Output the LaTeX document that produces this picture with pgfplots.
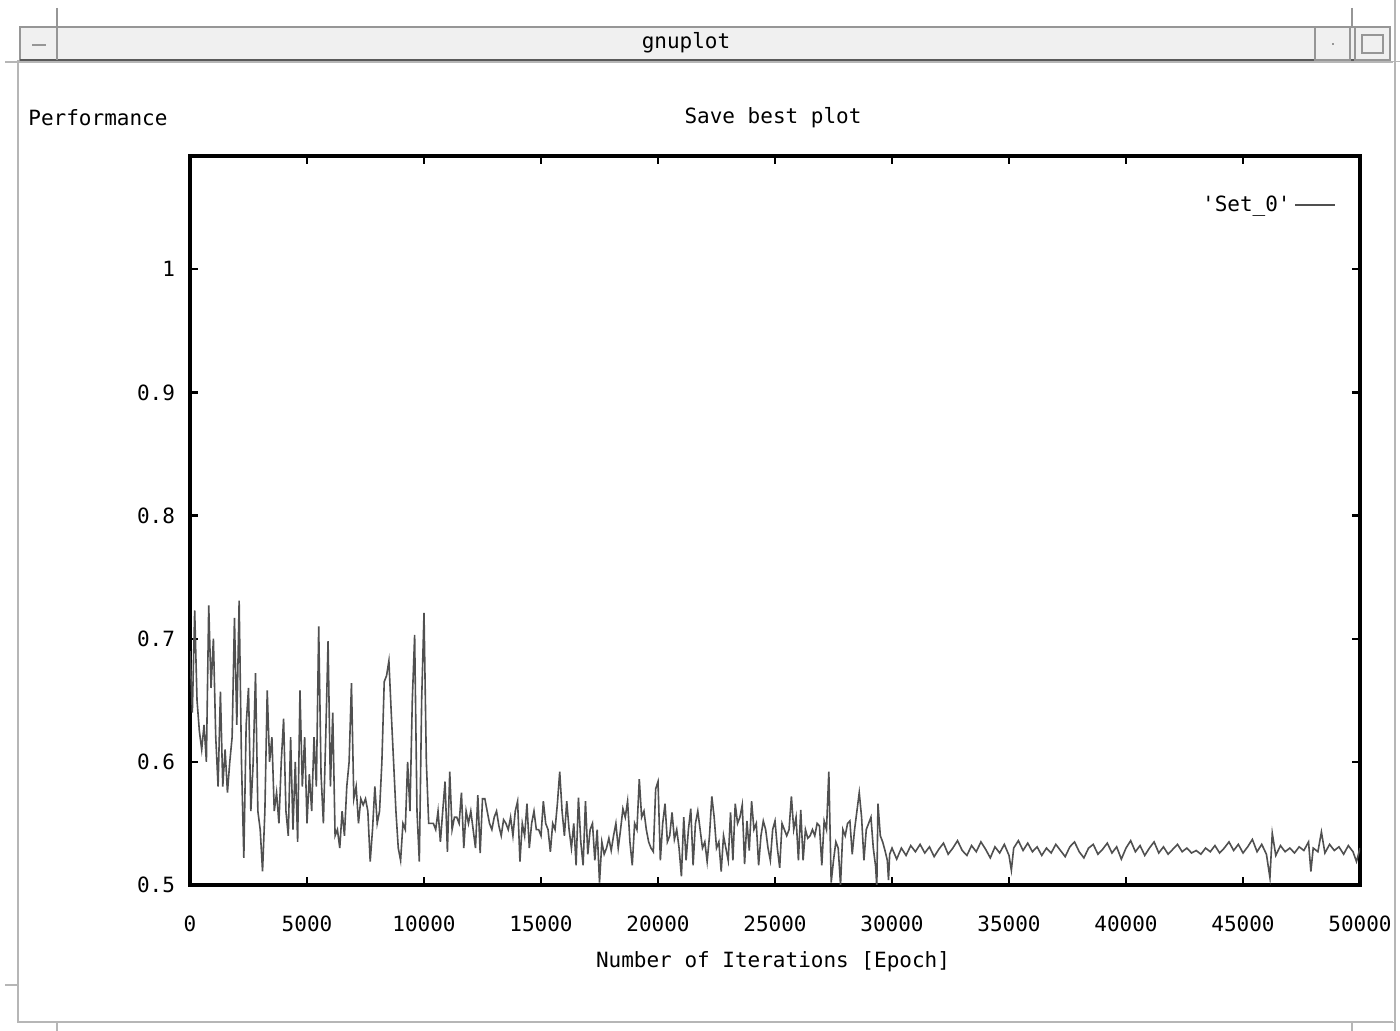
\documentclass[border=0pt]{standalone}
\usepackage{fontspec}
\usepackage{pgfplots}
\pgfplotsset{compat=1.18}
\newfontfamily\gp{DejaVu Sans Mono}
\definecolor{dataline}{RGB}{80,80,80}
\definecolor{chrome}{RGB}{150,150,150}
\begin{document}
\begin{tikzpicture}
\useasboundingbox (0,0) rectangle (700pt,515.5pt);
\fill[white] (0,0) rectangle (700pt,515.5pt);
% window chrome (pixel coordinates, y downwards)
\begin{scope}[x=0.5pt,y=-0.5pt,shift={(0,515.5pt)}]
  \fill[gray!12] (20,27) rectangle (1390,60);
  \draw[chrome,line width=0.8pt] (20,27) rectangle (1390,60);
  \draw[gray!70!black,line width=0.9pt] (20,60) -- (1390,60);
  \draw[chrome,line width=0.8pt] (57,27) -- (57,60);
  \draw[chrome,line width=0.8pt] (1315,27) rectangle (1350,60);
  \draw[chrome,line width=0.8pt] (1355,27) rectangle (1390,60);
  \draw[chrome,line width=0.8pt] (57,8) -- (57,27);
  \draw[chrome,line width=0.8pt] (1352,8) -- (1352,27);
  \draw[chrome,line width=0.6pt] (32,45) -- (46,45);
  \draw[chrome,line width=0.6pt] (1362,35) rectangle (1383,53);
  \draw[chrome,line width=0.6pt] (1332,44) -- (1334,44);
  \draw[chrome!70,line width=0.6pt] (5,62) -- (1400,62);
  \draw[chrome!70,line width=0.6pt] (18,60) -- (18,1022) -- (1395,1022);
  \draw[chrome!70,line width=0.6pt] (1395,0) -- (1395,1031);
  \draw[chrome!70,line width=0.6pt] (5,985) -- (18,985);
  \draw[chrome!70,line width=0.6pt] (57,1022) -- (57,1031);
  \draw[chrome!70,line width=0.6pt] (1352,1022) -- (1352,1031);
  \node[font=\gp\fontsize{10.5pt}{12pt}\selectfont] at (686,43) {gnuplot};
  \node[font=\gp\fontsize{10.5pt}{12pt}\selectfont,anchor=west,inner sep=0pt] at (28,118) {Performance};
  \node[font=\gp\fontsize{10.5pt}{12pt}\selectfont] at (773,118) {Save best plot};
  \node[font=\gp\fontsize{10.5pt}{12pt}\selectfont] at (773,962) {Number of Iterations [Epoch]};
\end{scope}
\begin{axis}[
  at={(95pt,73pt)}, anchor=south west,
  scale only axis, width=585pt, height=364.5pt,
  xmin=0, xmax=50000, ymin=0.5, ymax=1.092,
  axis line style={line width=1.6pt},
  tick align=inside, xtick pos=both, ytick pos=both,
  major tick length=4pt,
  every tick/.style={black,line width=1.2pt},
  xtick={0,5000,10000,15000,20000,25000,30000,35000,40000,45000,50000},
  xticklabels={0,5000,10000,15000,20000,25000,30000,35000,40000,45000,50000},
  ytick={0.5,0.6,0.7,0.8,0.9,1},
  yticklabels={0.5,0.6,0.7,0.8,0.9,1},
  scaled x ticks=false,
  xticklabel style={font=\gp\fontsize{10.5pt}{12pt}\selectfont,yshift=-12pt},
  yticklabel style={font=\gp\fontsize{10.5pt}{12pt}\selectfont,xshift=-4pt},
  legend plot pos=right,
  legend style={at={(0.985,0.933)},anchor=east,draw=none,fill=none,
    font=\gp\fontsize{10.5pt}{12pt}\selectfont},
  legend image code/.code={\draw[#1] (0cm,0cm) -- (0.7cm,0cm);},
  clip=true,
]
\addplot[dataline,line width=0.8pt] table {
x y
0 0.690
100 0.640
200 0.723
300 0.650
400 0.625
500 0.610
600 0.630
700 0.600
800 0.727
900 0.660
1000 0.700
1100 0.620
1200 0.580
1300 0.657
1400 0.580
1500 0.610
1600 0.575
1700 0.600
1800 0.620
1900 0.717
2000 0.630
2100 0.731
2200 0.600
2300 0.522
2400 0.630
2500 0.660
2600 0.560
2700 0.600
2800 0.672
2900 0.560
3000 0.545
3100 0.511
3200 0.560
3300 0.658
3400 0.600
3500 0.620
3600 0.560
3700 0.575
3800 0.550
3900 0.600
4000 0.635
4100 0.560
4200 0.540
4300 0.620
4400 0.545
4500 0.600
4600 0.535
4700 0.658
4800 0.580
4900 0.620
5000 0.550
5100 0.590
5200 0.560
5300 0.620
5400 0.580
5500 0.710
5600 0.590
5700 0.550
5800 0.620
5900 0.698
6000 0.580
6100 0.640
6200 0.540
6300 0.545
6400 0.530
6500 0.560
6600 0.540
6700 0.580
6800 0.600
6900 0.664
7000 0.570
7100 0.580
7200 0.550
7300 0.570
7400 0.565
7500 0.570
7600 0.560
7700 0.519
7800 0.545
7900 0.580
8000 0.550
8100 0.560
8200 0.600
8300 0.665
8400 0.670
8500 0.682
8600 0.640
8700 0.600
8800 0.560
8900 0.530
9000 0.520
9100 0.550
9200 0.545
9300 0.600
9400 0.560
9500 0.650
9600 0.703
9700 0.560
9800 0.519
9900 0.650
10000 0.721
10100 0.600
10200 0.550
10300 0.550
10400 0.550
10500 0.545
10600 0.560
10700 0.535
10800 0.560
10900 0.584
11000 0.527
11100 0.592
11200 0.545
11300 0.555
11400 0.555
11500 0.550
11600 0.575
11700 0.530
11800 0.560
11900 0.550
12000 0.560
12100 0.545
12200 0.530
12300 0.573
12400 0.526
12500 0.570
12600 0.570
12700 0.560
12800 0.550
12900 0.545
13000 0.555
13100 0.560
13200 0.548
13300 0.540
13400 0.553
13500 0.550
13600 0.545
13700 0.555
13800 0.540
13900 0.560
14000 0.568
14100 0.519
14200 0.550
14300 0.540
14400 0.566
14500 0.530
14600 0.550
14700 0.560
14800 0.545
14900 0.545
15000 0.540
15100 0.568
15200 0.550
15300 0.545
15400 0.527
15500 0.550
15600 0.545
15700 0.566
15800 0.592
15900 0.560
16000 0.540
16100 0.568
16200 0.545
16300 0.530
16400 0.550
16500 0.516
16600 0.571
16700 0.535
16800 0.516
16900 0.568
17000 0.525
17100 0.545
17200 0.550
17300 0.520
17400 0.545
17500 0.502
17600 0.535
17700 0.525
17800 0.530
17900 0.538
18000 0.528
18100 0.540
18200 0.550
18300 0.530
18400 0.545
18500 0.562
18600 0.555
18700 0.568
18800 0.535
18900 0.516
19000 0.550
19100 0.545
19200 0.586
19300 0.555
19400 0.560
19500 0.545
19600 0.535
19700 0.530
19800 0.527
19900 0.578
20000 0.584
20100 0.520
20200 0.550
20300 0.566
20400 0.535
20500 0.540
20600 0.559
20700 0.537
20800 0.545
20900 0.530
21000 0.507
21100 0.555
21200 0.520
21300 0.545
21400 0.562
21500 0.516
21600 0.550
21700 0.560
21800 0.545
21900 0.530
22000 0.535
22100 0.519
22200 0.540
22300 0.572
22400 0.555
22500 0.530
22600 0.535
22700 0.511
22800 0.540
22900 0.530
23000 0.520
23100 0.559
23200 0.520
23300 0.566
23400 0.550
23500 0.555
23600 0.565
23700 0.517
23800 0.552
23900 0.528
24000 0.568
24100 0.545
24200 0.550
24300 0.516
24400 0.540
24500 0.552
24600 0.545
24700 0.530
24800 0.520
24900 0.545
25000 0.552
25100 0.530
25200 0.514
25300 0.550
25400 0.545
25500 0.540
25600 0.545
25700 0.572
25800 0.545
25900 0.555
26000 0.520
26100 0.561
26200 0.520
26300 0.545
26400 0.538
26500 0.540
26600 0.545
26700 0.540
26800 0.550
26900 0.548
27000 0.516
27100 0.552
27200 0.545
27300 0.592
27400 0.502
27500 0.520
27600 0.535
27700 0.530
27800 0.500
27900 0.545
28000 0.540
28100 0.550
28200 0.552
28300 0.525
28400 0.545
28500 0.560
28600 0.575
28700 0.555
28800 0.520
28900 0.545
29000 0.550
29100 0.555
29200 0.530
29300 0.515
29350 0.498
29400 0.566
29500 0.540
29600 0.535
29700 0.528
29800 0.520
29850 0.504
29900 0.525
30000 0.530
30200 0.521
30400 0.530
30600 0.524
30800 0.532
31000 0.527
31200 0.533
31400 0.526
31600 0.531
31800 0.523
32000 0.529
32200 0.534
32400 0.525
32600 0.530
32800 0.536
33000 0.528
33200 0.524
33400 0.532
33600 0.527
33800 0.535
34000 0.529
34200 0.522
34400 0.531
34600 0.526
34800 0.533
35000 0.524
35100 0.512
35200 0.530
35400 0.536
35600 0.528
35800 0.534
36000 0.527
36200 0.531
36400 0.524
36600 0.530
36800 0.526
37000 0.533
37200 0.528
37400 0.523
37600 0.531
37800 0.535
38000 0.527
38200 0.522
38400 0.530
38600 0.533
38800 0.525
39000 0.529
39200 0.534
39400 0.526
39600 0.531
39800 0.521
40000 0.530
40200 0.536
40400 0.527
40600 0.532
40800 0.524
41000 0.530
41200 0.535
41400 0.526
41600 0.531
41800 0.525
42000 0.529
42200 0.533
42400 0.527
42600 0.530
42800 0.526
43000 0.528
43200 0.525
43400 0.530
43600 0.527
43800 0.532
44000 0.526
44200 0.530
44400 0.535
44600 0.528
44800 0.533
45000 0.526
45200 0.531
45400 0.537
45600 0.527
45800 0.533
46000 0.525
46150 0.506
46250 0.542
46400 0.524
46600 0.532
46800 0.527
47000 0.530
47200 0.526
47400 0.531
47600 0.528
47800 0.535
47900 0.511
48000 0.530
48200 0.527
48350 0.543
48500 0.526
48700 0.533
48900 0.528
49100 0.531
49300 0.525
49500 0.532
49700 0.527
49850 0.519
50000 0.530
};
\addlegendentry{'Set\_0'\hspace{6pt}}
\end{axis}
% right window edge covering the last label partially
\begin{scope}[x=0.5pt,y=-0.5pt,shift={(0,515.5pt)}]
  \fill[white] (1393,62) rectangle (1400,1022);
  \draw[chrome!70,line width=0.6pt] (1395,0) -- (1395,1031);
\end{scope}
\end{tikzpicture}
\end{document}
